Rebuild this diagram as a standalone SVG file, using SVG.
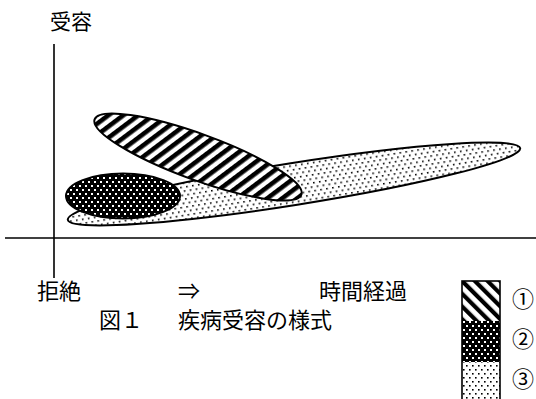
<svg xmlns="http://www.w3.org/2000/svg" width="536" height="399" viewBox="0 0 536 399">
<style>
text{font-family:"Noto Sans CJK JP","Noto Sans",sans-serif;fill:#000;font-size:22px}
.num{font-size:22px}
.axis{stroke:#000;stroke-width:1.6;fill:none}
.shape{stroke:#000;stroke-width:2}
</style>
<defs>
<pattern id="hatch" patternUnits="userSpaceOnUse" width="9" height="20" patternTransform="rotate(33)">
<rect width="9" height="20" fill="#fff"/>
<rect x="0" y="0" width="4.6" height="20" fill="#000"/>
</pattern>
<pattern id="hatchLeg" patternUnits="userSpaceOnUse" width="9" height="20" patternTransform="rotate(-45)">
<rect width="9" height="20" fill="#fff"/>
<rect x="0" y="0" width="4.2" height="20" fill="#000"/>
</pattern>
<pattern id="dark" patternUnits="userSpaceOnUse" width="6" height="8">
<rect width="6" height="8" fill="#000"/>
<rect x="1" y="1" width="2" height="2" fill="#fff"/>
<rect x="4" y="5" width="2" height="2" fill="#fff"/>
</pattern>
<pattern id="dots" patternUnits="userSpaceOnUse" width="6" height="8">
<rect width="6" height="8" fill="#fff"/>
<rect x="1" y="1" width="1.6" height="1.6" fill="#000"/>
<rect x="4" y="5" width="1.6" height="1.6" fill="#000"/>
</pattern>
</defs>

<g id="axes">
<line class="axis" x1="54" y1="44" x2="54" y2="278"/>
<line class="axis" x1="5" y1="238" x2="536" y2="238"/>
</g>

<g id="node3">
<ellipse class="shape" cx="294" cy="184" rx="229" ry="21" transform="rotate(-9 294 184)" fill="url(#dots)"/>
</g>
<g id="node2">
<ellipse class="shape" cx="123" cy="196" rx="57" ry="22.5" fill="url(#dark)"/>
</g>
<g id="node1">
<ellipse class="shape" cx="198" cy="157" rx="110" ry="23" transform="rotate(20 198 157)" fill="url(#hatch)"/>
</g>

<g id="labels">
<text x="50" y="29" style="font-size:21px">受容</text>
<text x="37" y="299">拒絶</text>
<text x="178" y="299">⇒</text>
<text x="319" y="299">時間経過</text>
<text x="99" y="328">図１</text>
<text x="178" y="328">疾病受容の様式</text>
</g>

<g id="legend">
<rect x="462" y="281" width="38" height="40" fill="url(#hatchLeg)"/>
<rect x="462" y="321" width="38" height="41" fill="url(#dark)"/>
<rect x="462" y="362" width="38" height="40" fill="url(#dots)"/>
<rect x="462" y="281" width="38" height="121" fill="none" stroke="#000" stroke-width="1.6"/>
<text class="num" x="512" y="307">①</text>
<text class="num" x="512" y="347">②</text>
<text class="num" x="512" y="387">③</text>
</g>
</svg>
